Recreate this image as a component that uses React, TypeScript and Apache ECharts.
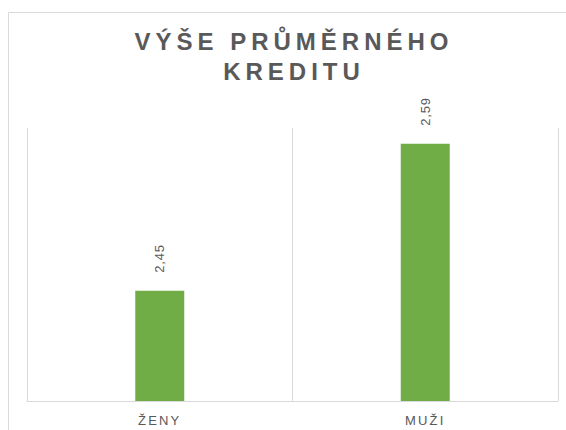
import React, { useEffect, useRef } from "react";
import * as echarts from "echarts";

const titleLines = ["VÝŠE PRŮMĚRNÉHO", "KREDITU"];
const categories = ["ŽENY", "MUŽI"];
const values = [2.45, 2.59];

const FONT = "'Liberation Sans', Arial, sans-serif";
const GREY = "#595959";
const LINE = "#d9d9d9";

function applySpacing(root: HTMLElement) {
  const texts = root.querySelectorAll("text");
  texts.forEach((t) => {
    const s = (t.textContent || "").trim();
    if (titleLines.includes(s)) {
      (t as SVGTextElement).style.letterSpacing = "5px";
    } else if (categories.includes(s)) {
      (t as SVGTextElement).style.letterSpacing = "2.2px";
    } else if (/^\d,\d\d$/.test(s)) {
      (t as SVGTextElement).style.letterSpacing = "0.8px";
    }
  });
}

export default function App() {
  const ref = useRef<HTMLDivElement>(null);

  useEffect(() => {
    if (!ref.current) return;
    const chart = echarts.init(ref.current, null, { renderer: "svg" });
    const option: any = {
      animation: false,
      backgroundColor: "#ffffff",
      title: {
        text: titleLines.join("\n"),
        left: 294,
        top: 26.5,
        padding: 0,
        textAlign: "center",
        textStyle: {
          fontFamily: FONT,
          fontSize: 24,
          fontWeight: "bold",
          color: GREY,
          lineHeight: 30,
        },
      },
      grid: { left: 27, right: 8, top: 128, bottom: 29, containLabel: false },
      xAxis: {
        type: "category",
        data: categories,
        boundaryGap: true,
        axisLine: { show: true, lineStyle: { color: LINE, width: 1 } },
        axisTick: { show: false },
        splitLine: { show: true, lineStyle: { color: LINE, width: 1 } },
        axisLabel: {
          color: GREY,
          fontSize: 13,
          fontFamily: FONT,
          margin: 13,
        },
      },
      yAxis: {
        type: "value",
        min: 2.345,
        max: 2.605,
        show: false,
        splitLine: { show: false },
      },
      series: [
        {
          type: "bar",
          data: values,
          barWidth: 49,
          clip: true,
          itemStyle: { color: "#70AD47" },
          label: {
            show: true,
            position: "top",
            distance: 18,
            rotate: 90,
            align: "left",
            verticalAlign: "middle",
            color: GREY,
            fontSize: 13,
            fontFamily: FONT,
            formatter: (p: any) => Number(p.value).toFixed(2).replace(".", ","),
          },
        },
      ],
      graphic: [
        {
          type: "rect",
          silent: true,
          z: -1,
          shape: { x: 8.5, y: 12.5, width: 700, height: 600 },
          style: { fill: "none", stroke: LINE, lineWidth: 1 },
        },
      ],
    };
    chart.setOption(option);
    const el = ref.current;
    applySpacing(el);
    chart.on("finished", () => applySpacing(el));
    const raf = requestAnimationFrame(() => applySpacing(el));
    return () => {
      cancelAnimationFrame(raf);
      chart.dispose();
    };
  }, []);

  return (
    <div
      ref={ref}
      style={{ position: "absolute", left: 0, top: 0, width: 566, height: 430 }}
    />
  );
}
